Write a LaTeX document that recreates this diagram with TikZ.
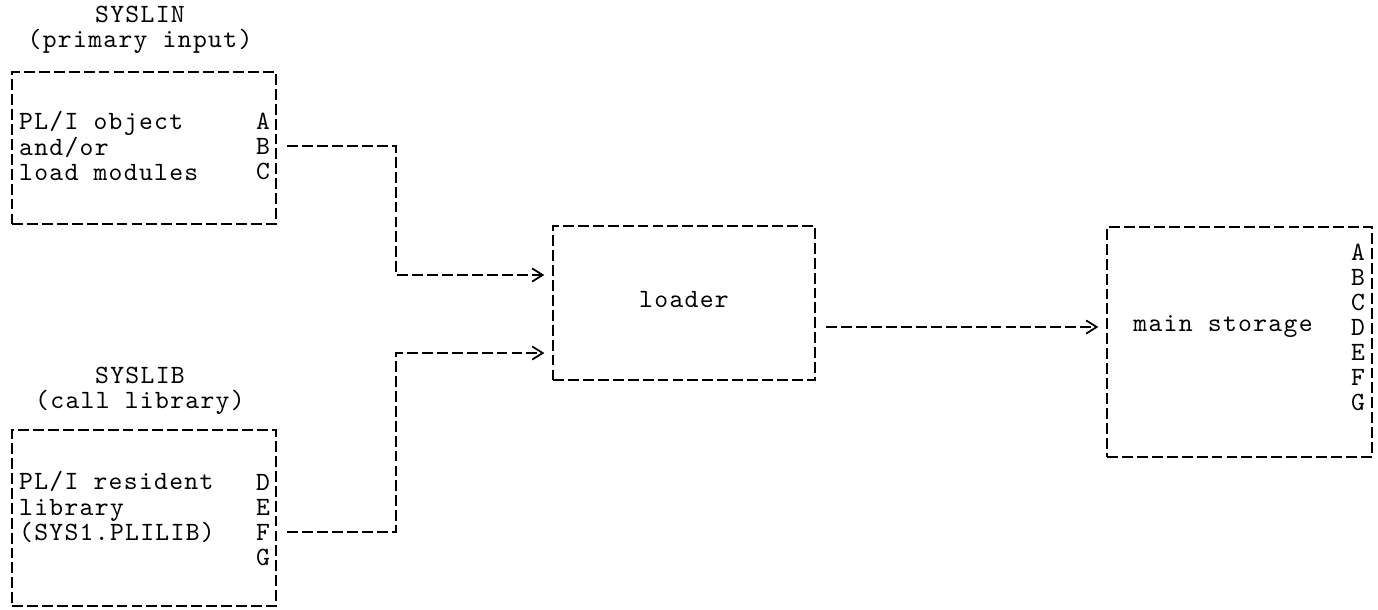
\documentclass[tikz,border=0pt]{standalone}
\usepackage{fontspec}
\setmonofont{lmmono10-regular}[Extension=.otf, LetterSpace=5]
\usetikzlibrary{arrows.meta, positioning}

\tikzset{
  box/.style={draw, line width=0.9pt, dash pattern=on 6.2pt off 2.3pt},
  txt/.style={font=\ttfamily\fontsize{15}{14.3}\selectfont, inner sep=1pt},
  link/.style={line width=0.9pt, dash pattern=on 6.2pt off 2.3pt,
    -{Straight Barb[length=6pt,width=7.5pt,line width=1pt]},
    shorten <=6pt, shorten >=4.5pt}
}

\begin{document}
\begin{tikzpicture}[x=0.02cm, y=-0.02cm]
\useasboundingbox (0,0) rectangle (1378,609);
% input datasets
\node[box, minimum width=5.28cm, minimum height=3.04cm] (syslin) at (144,148) {};
\node[txt, align=center] (syslint) at (140,30) {SYSLIN\\(primary input)};
\node[txt, anchor=west, align=left] (syslinx) at (17,146) {PL/I object\\and/or\\load modules};
\foreach \l [count=\i] in {A,B,C}
  \node[txt, anchor=east] (s\l) at (272,96+25*\i) {\l};

\node[box, minimum width=5.28cm, minimum height=3.52cm] (syslib) at (144,518) {};
\node[txt, align=center] (syslibt) at (140,391) {SYSLIB\\(call library)};
\node[txt, anchor=west, align=left] (syslibx) at (17,507) {PL/I resident\\library\\(SYS1.PLILIB)};
\foreach \l [count=\i] in {D,E,F,G}
  \node[txt, anchor=east] (s\l) at (272,457+25*\i) {\l};

% loader
\node[box, minimum width=5.24cm, minimum height=3.08cm] (loader) at (684,303) {};
\node[txt] (loadert) at (684,300) {loader};

% main storage
\node[box, minimum width=5.3cm, minimum height=4.6cm] (mstore) at (1239.5,342) {};
\node[txt] (mstoret) at (1223,327) {main storage};
\foreach \l [count=\i] in {A,B,C,D,E,F,G}
  \node[txt, anchor=east] (m\l) at (1367,227+25*\i) {\l};

% connectors
\coordinate (jA) at (396,275);
\coordinate (jB) at (396,353);
\draw[link] (sB.east -| syslin.east) -| (jA) -- (jA -| loader.west);
\draw[link] (sF.east -| syslib.east) -| (jB) -- (jB -| loader.west);
\draw[link] (loader.east |- mD) -- (mstore.west |- mD);
\end{tikzpicture}
\end{document}
